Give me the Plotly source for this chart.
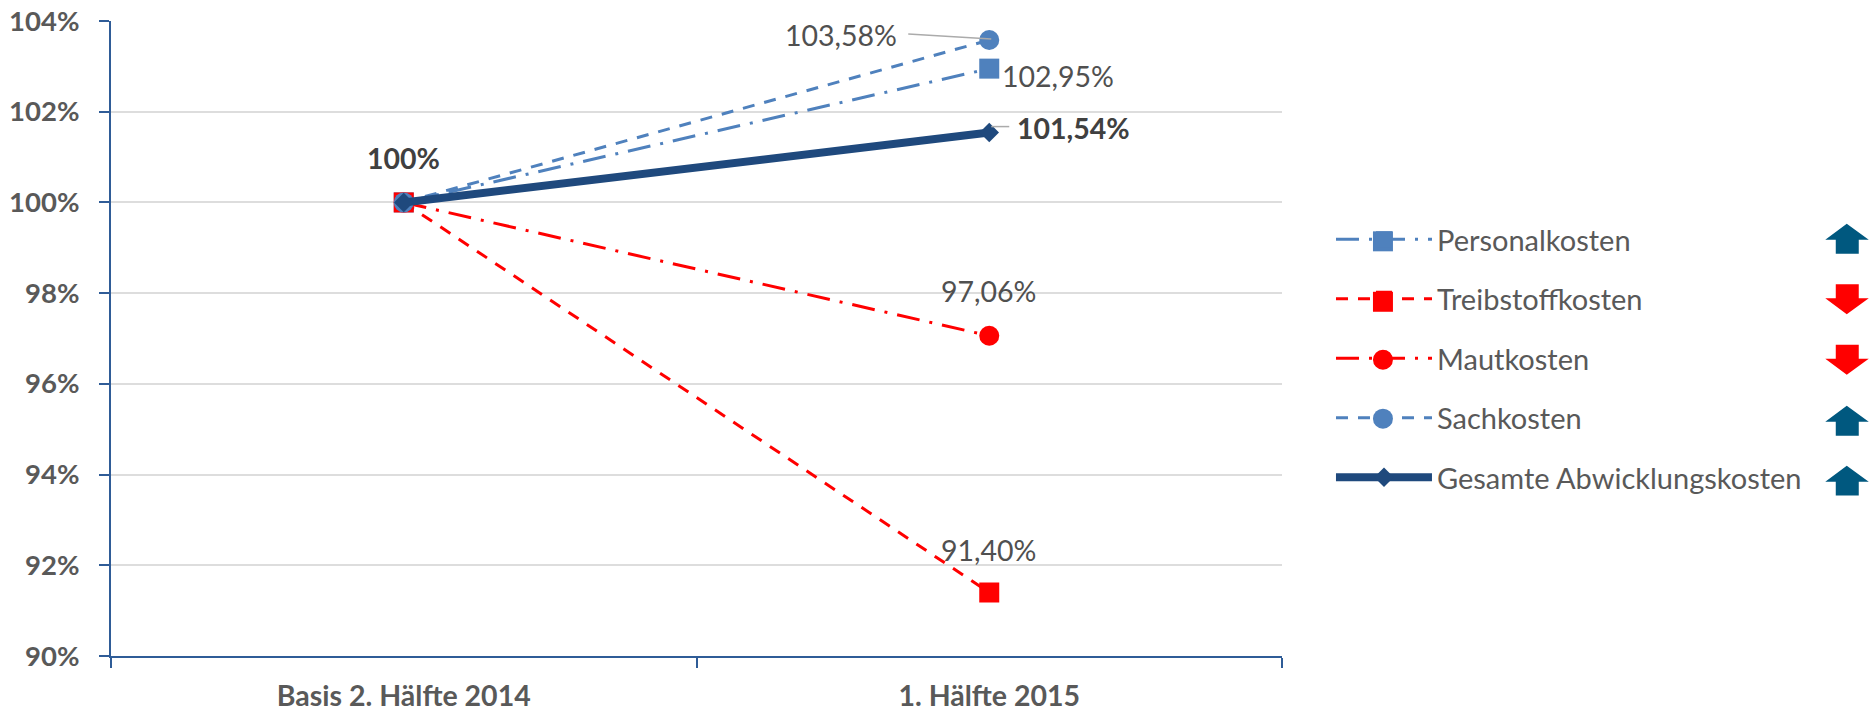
import plotly.graph_objects as go

categories = ["Basis 2. Hälfte 2014", "1. Hälfte 2015"]
series_names = ["Personalkosten", "Treibstoffkosten", "Mautkosten", "Sachkosten", "Gesamte Abwicklungskosten"]
personal = [100, 102.95]
treibstoff = [100, 91.40]
maut = [100, 97.06]
sach = [100, 103.58]
gesamt = [100, 101.54]
y_ticks = [90, 92, 94, 96, 98, 100, 102, 104]
arrow_dirs = ["up", "down", "down", "up", "up"]

BLUE, RED, NAVY = "#4F81BD", "#FF0000", "#1F497D"
AXIS, GRID = "#2F5C97", "#DDDDDD"
TICK, LABEL = "#595959", "#505050"
FONT = "Lato"
DASHDOT = "23px,10px,3px,10px"
DASH = "12px,10px"

L, R, T, B = 110.5, 1282.0, 21.0, 656.5
W, H = 1870, 712

styles = [
    (personal, BLUE, DASHDOT, 3, "square", 20),
    (treibstoff, RED, DASH, 3, "square", 20),
    (maut, RED, DASHDOT, 3, "circle", 20),
    (sach, BLUE, DASH, 3, "circle", 20),
    (gesamt, NAVY, "solid", 8, "diamond", 15),
]

fig = go.Figure()
for name, (vals, color, dash, width, sym, size) in zip(series_names, styles):
    fig.add_trace(go.Scatter(
        x=categories, y=vals, name=name, legendgroup=name, mode="lines+markers",
        line=dict(color=color, dash=dash, width=width),
        marker=dict(symbol=sym, size=size, color=color, line=dict(width=0)),
    ))

def label(cat, val, text, dx, dy, bold=False):
    fig.add_annotation(
        x=cat, y=val, xref="x", yref="y", text=f"<b>{text}</b>" if bold else text,
        showarrow=False, xanchor="center", yanchor="middle", xshift=dx, yshift=dy,
        font=dict(family=FONT, size=28.5, color="#404040" if bold else LABEL),
    )

label(categories[0], gesamt[0], "100%", 0, 44, True)
label(categories[1], sach[1], "103,58%", -148, 5)
label(categories[1], personal[1], "102,95%", 69, -7)
label(categories[1], gesamt[1], "101,54%", 84, 5, True)
label(categories[1], maut[1], "97,06%", -1, 45)
label(categories[1], treibstoff[1], "91,40%", -1, 43)

def leader(val, x0, y0, x1, y1):
    fig.add_shape(type="line", xref="x", yref="y", xsizemode="pixel", ysizemode="pixel",
                  xanchor=1, yanchor=val, x0=x0, y0=y0, x1=x1, y1=y1,
                  line=dict(color="#ABABAB", width=1.5))

leader(sach[1], -81, 6, 2, 1)
leader(gesamt[1], 2, 6, 20, 6)

def px_x(p): return (p - L) / (R - L)
def px_y(p): return (B - p) / (B - T)

for d, top in zip(arrow_dirs, [224, 284.5, 345, 406, 466]):
    xs = [1825.5, 1836, 1859, 1869]
    cx = 1847
    if d == "up":
        pts = [(cx, top), (xs[3], top + 16), (xs[2], top + 16), (xs[2], top + 30),
               (xs[1], top + 30), (xs[1], top + 16), (xs[0], top + 16)]
        col = "#00587F"
    else:
        pts = [(cx, top + 30), (xs[3], top + 14), (xs[2], top + 14), (xs[2], top),
               (xs[1], top), (xs[1], top + 14), (xs[0], top + 14)]
        col = RED
    path = "M" + "L".join(f"{px_x(a):.5f},{px_y(b):.5f}" for a, b in pts) + "Z"
    fig.add_shape(type="path", xref="paper", yref="paper", path=path,
                  fillcolor=col, line=dict(width=0))

# Plotly caps legend markers at 16px; the reference's are 20px, so widen them from behind.
for (vals, color, dash, width, sym, size), cy in zip(styles[:4], [241.5, 302, 360, 419]):
    fig.add_shape(type="rect" if sym == "square" else "circle", xref="paper", yref="paper",
                  x0=px_x(1373), x1=px_x(1393), y0=px_y(cy - 10), y1=px_y(cy + 10),
                  fillcolor=color, line=dict(width=0))

fig.update_layout(
    width=W, height=H, autosize=False,
    margin=dict(l=L, r=W - R, t=T, b=H - B, pad=0),
    paper_bgcolor="white", plot_bgcolor="white",
    font=dict(family=FONT, color=TICK),
    showlegend=True,
    legend=dict(
        x=(1331 - L) / (R - L), y=(B - 214) / (B - T), xanchor="left", yanchor="top",
        itemwidth=96, tracegroupgap=18.8, traceorder="grouped",
        font=dict(family=FONT, size=29, color=TICK),
        bgcolor="rgba(0,0,0,0)", borderwidth=0,
        itemclick=False, itemdoubleclick=False,
    ),
)
fig.update_xaxes(
    type="category", range=[-0.5, 1.5], tickson="boundaries", ticks="outside", ticklen=10,
    tickcolor=AXIS, tickwidth=2, showline=True, linecolor=AXIS, linewidth=2,
    showgrid=False, zeroline=False, automargin=False, ticklabelstandoff=14,
    tickfont=dict(family=FONT, size=28.5, color=TICK, weight="bold"),
)
fig.update_yaxes(
    range=[90, 104], tickvals=y_ticks, ticktext=[f"{v}%" for v in y_ticks],
    ticks="outside", ticklen=10, tickcolor=AXIS, tickwidth=2,
    showline=True, linecolor=AXIS, linewidth=2, showgrid=True, gridcolor=GRID, gridwidth=2,
    zeroline=False, automargin=False, ticklabelstandoff=14,
    tickfont=dict(family=FONT, size=27.5, color=TICK, weight="bold"),
)

fig.write_html("out.html", config={"displayModeBar": False},
               post_script="document.body.style.margin='0';document.documentElement.style.overflow='hidden';")
